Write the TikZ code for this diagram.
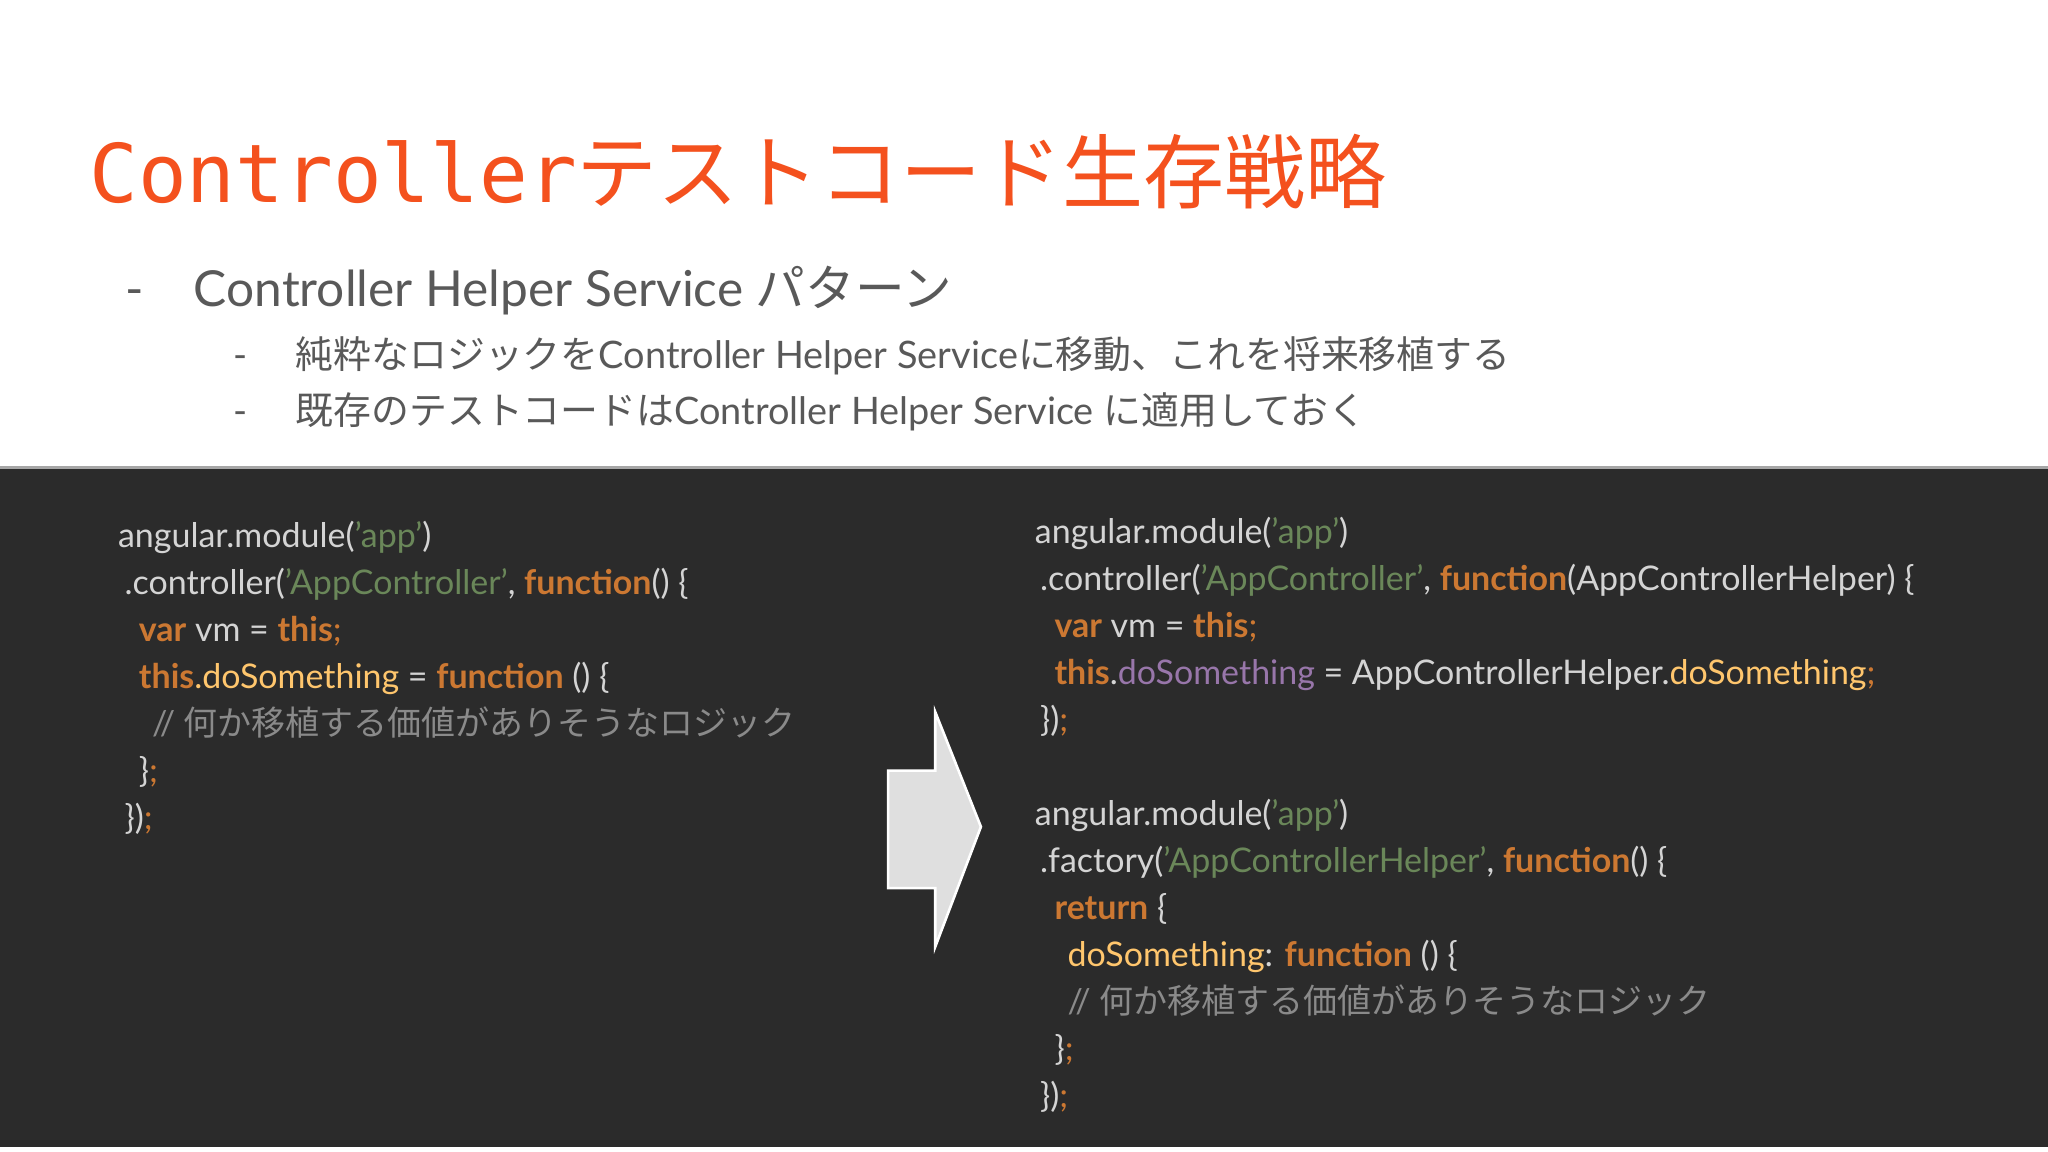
\documentclass[tikz,border=0pt]{standalone}
\usepackage{fontspec}
\setmainfont{Lato}
\newfontfamily\jp{Noto Sans CJK JP}
\newfontfamily\mono{DejaVu Sans Mono}
\definecolor{ttl}{HTML}{F4511E}
\definecolor{txt}{HTML}{595959}
\definecolor{bg}{HTML}{2B2B2B}
\definecolor{cd}{HTML}{D4D4D4}
\definecolor{st}{HTML}{6A8759}
\definecolor{kw}{HTML}{CC7832}
\definecolor{fn}{HTML}{FFC66D}
\definecolor{cm}{HTML}{8A8A8A}
\definecolor{pu}{HTML}{9876AA}
\newcommand{\K}[1]{\textcolor{kw}{\bfseries #1}}
\newcommand{\Sg}[1]{\textcolor{st}{#1}}
\newcommand{\F}[1]{\textcolor{fn}{#1}}
\newcommand{\Cm}[1]{\textcolor{cm}{#1}}
\tikzset{codeline/.style={anchor=base west,inner sep=0,text=cd,font=\fontsize{13}{15}\selectfont},
 bul/.style={anchor=base west,inner sep=0,text=txt}}
\begin{document}
\begin{tikzpicture}[x=0.5pt,y=-0.5pt]
\useasboundingbox (0,0) rectangle (1568,882);
\fill[white] (0,0) rectangle (1568,882);
\fill[bg] (0,358) rectangle (1568,878);
\draw[gray!70,line width=1pt] (0,358) -- (1568,358);
\node[anchor=base west,inner sep=0,text=ttl,font=\fontsize{31}{36}\selectfont] (title) at (68,155) {{\mono Controller}{\jp テストコード生存戦略}};
\node[bul,font=\fontsize{19}{22}\selectfont] (b1d) at (96,235) {-};
\node[bul,font=\fontsize{19}{22}\selectfont] (b1) at (148,235) {Controller Helper Service {\jp パターン}};
\node[bul,font=\fontsize{14.5}{18}\selectfont] (b2d) at (178,282) {-};
\node[bul,font=\fontsize{14.5}{18}\selectfont] (b2) at (226,282) {{\jp 純粋なロジックを}Controller Helper Service{\jp に移動、これを将来移植する}};
\node[bul,font=\fontsize{14.5}{18}\selectfont] (b3d) at (178,325) {-};
\node[bul,font=\fontsize{14.5}{18}\selectfont] (b3) at (226,325) {{\jp 既存のテストコードは}Controller Helper Service {\jp に適用しておく}};
% left code
\node[codeline] (l1) at (90,419) {angular.module(\Sg{'app'})};
\node[codeline] (l2) at (95,455) {.controller(\Sg{'AppController'}, \K{function}() \{};
\node[codeline] (l3) at (106,491) {\K{var} vm = \K{this}\textcolor{kw}{;}};
\node[codeline] (l4) at (106,527) {\K{this}\F{.doSomething} = \K{function} () \{};
\node[codeline] (l5) at (116,563) {\Cm{// {\jp 何か移植する価値がありそうなロジック}}};
\node[codeline] (l6) at (106,599) {\}\textcolor{kw}{;}};
\node[codeline] (l7) at (95,635) {\})\textcolor{kw}{;}};
% arrow
\draw[white,line width=1pt,fill=gray!25] (680,590) -- (716,590) -- (716,545) -- (751,633) -- (716,725) -- (716,680) -- (680,680) -- cycle;
\coordinate (arr) at (716,633);
% right code
\node[codeline] (r1) at (792,416) {angular.module(\Sg{'app'})};
\node[codeline] (r2) at (796,452) {.controller(\Sg{'AppController'}, \K{function}(AppControllerHelper) \{};
\node[codeline] (r3) at (807,488) {\K{var} vm = \K{this}\textcolor{kw}{;}};
\node[codeline] (r4) at (807,524) {\K{this}.\textcolor{pu}{doSomething} = AppControllerHelper.\F{doSomething}\textcolor{kw}{;}};
\node[codeline] (r5) at (796,560) {\})\textcolor{kw}{;}};
\node[codeline] (r6) at (792,632) {angular.module(\Sg{'app'})};
\node[codeline] (r7) at (796,668) {.factory(\Sg{'AppControllerHelper'}, \K{function}() \{};
\node[codeline] (r8) at (807,704) {\K{return} \{};
\node[codeline] (r9) at (817,740) {\F{doSomething}: \K{function} () \{};
\node[codeline] (r10) at (817,776) {\Cm{// {\jp 何か移植する価値がありそうなロジック}}};
\node[codeline] (r11) at (807,812) {\}\textcolor{kw}{;}};
\node[codeline] (r12) at (796,848) {\})\textcolor{kw}{;}};
\end{tikzpicture}
\end{document}
